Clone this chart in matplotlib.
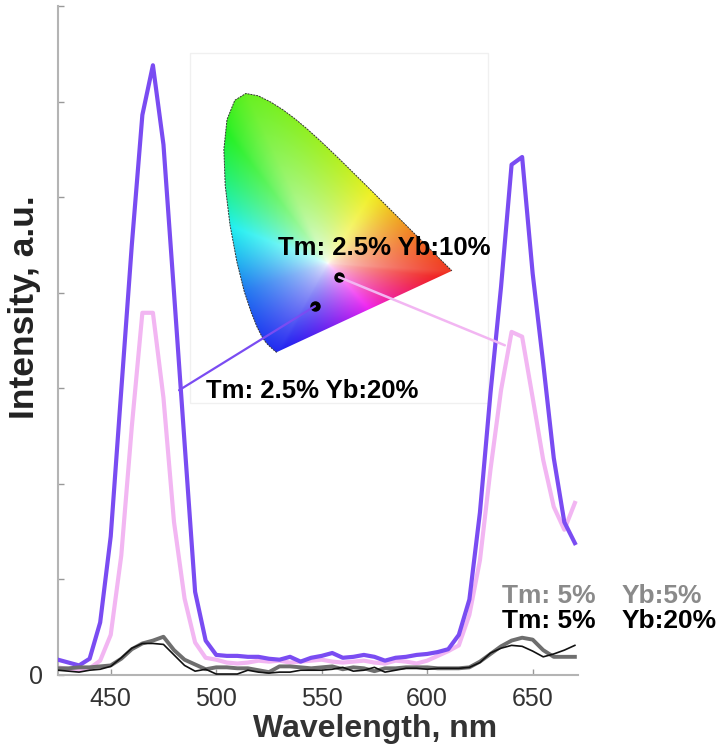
import matplotlib
matplotlib.use('Agg')
import matplotlib.pyplot as plt
import numpy as np
from matplotlib.colors import hsv_to_rgb
from matplotlib.patches import Polygon, Rectangle, ConnectionPatch

plt.rcParams['font.family'] = ['Liberation Sans', 'DejaVu Sans']

# emission spectra, 5 nm steps
wl = np.arange(425, 671, 5)
tm25_yb20 = [0.16, 0.13, 0.10, 0.17, 0.55, 1.45, 2.98, 4.50, 5.86, 6.38,
             5.55, 4.00, 2.43, 0.87, 0.36, 0.21, 0.20, 0.20, 0.19, 0.19,
             0.17, 0.16, 0.19, 0.14, 0.18, 0.20, 0.23, 0.18, 0.19, 0.21,
             0.19, 0.15, 0.18, 0.19, 0.21, 0.22, 0.24, 0.27, 0.42, 0.79,
             1.70, 2.95, 4.06, 5.34, 5.42, 4.20, 3.26, 2.27, 1.60, 1.38]
tm25_yb10 = [0.08, 0.06, 0.05, 0.07, 0.15, 0.42, 1.25, 2.60, 3.79, 3.79,
             2.90, 1.60, 0.80, 0.34, 0.18, 0.16, 0.13, 0.12, 0.13, 0.15,
             0.14, 0.15, 0.13, 0.14, 0.15, 0.16, 0.14, 0.13, 0.14, 0.15,
             0.13, 0.12, 0.15, 0.14, 0.12, 0.15, 0.20, 0.25, 0.31, 0.63,
             1.20, 2.15, 2.98, 3.59, 3.54, 2.90, 2.25, 1.76, 1.52, 1.80]
tm5_yb5 = [0.07, 0.07, 0.08, 0.08, 0.09, 0.10, 0.17, 0.27, 0.33, 0.36,
           0.40, 0.26, 0.16, 0.11, 0.06, 0.08, 0.08, 0.07, 0.07, 0.05,
           0.03, 0.09, 0.09, 0.08, 0.07, 0.08, 0.09, 0.06, 0.08, 0.07,
           0.04, 0.07, 0.07, 0.08, 0.08, 0.08, 0.07, 0.07, 0.07, 0.08,
           0.14, 0.22, 0.30, 0.36, 0.39, 0.37, 0.26, 0.19, 0.19, 0.19]
tm5_yb20 = [0.05, 0.04, 0.03, 0.05, 0.06, 0.09, 0.18, 0.28, 0.33, 0.33,
            0.32, 0.21, 0.10, 0.04, 0.06, 0.01, 0.01, 0.01, 0.05, 0.03,
            0.02, 0.03, 0.03, 0.05, 0.05, 0.05, 0.06, 0.08, 0.04, 0.05,
            0.08, 0.03, 0.05, 0.07, 0.07, 0.06, 0.07, 0.07, 0.07, 0.08,
            0.13, 0.23, 0.28, 0.31, 0.30, 0.25, 0.19, 0.22, 0.26, 0.31]

# CIE 1931 spectral locus (x, y)
locus_x = [0.1741, 0.1733, 0.1726, 0.1714, 0.1689, 0.1644, 0.1566, 0.1440, 0.1355,
           0.1241, 0.1096, 0.0913, 0.0687, 0.0454, 0.0235, 0.0082, 0.0039, 0.0139,
           0.0389, 0.0743, 0.1142, 0.1547, 0.1929, 0.2296, 0.2658, 0.3016, 0.3373,
           0.3731, 0.4087, 0.4441, 0.4788, 0.5125, 0.5448, 0.5752, 0.6029, 0.6270,
           0.6658, 0.6915, 0.7079, 0.7190, 0.7260, 0.7300, 0.7334, 0.7347]
locus_y = [0.0050, 0.0048, 0.0048, 0.0051, 0.0069, 0.0109, 0.0177, 0.0297, 0.0399,
           0.0578, 0.0868, 0.1327, 0.2007, 0.2950, 0.4127, 0.5384, 0.6548, 0.7502,
           0.8120, 0.8338, 0.8262, 0.8059, 0.7816, 0.7543, 0.7243, 0.6923, 0.6589,
           0.6245, 0.5896, 0.5547, 0.5202, 0.4866, 0.4544, 0.4242, 0.3965, 0.3725,
           0.3340, 0.3083, 0.2920, 0.2809, 0.2740, 0.2700, 0.2666, 0.2653]
white_pt = (0.335, 0.29)
# chromaticity of the two samples
pt_yb10 = (0.373, 0.245)
pt_yb20 = (0.296, 0.152)

# hue (deg, unwrapped) seen at points of the diagram rim, going round from the blue corner
rim_x = [0.174, 0.33, 0.45, 0.60, 0.7347, 0.60, 0.50, 0.30, 0.074, 0.014, 0.008, 0.0235, 0.069, 0.124]
rim_y = [0.005, 0.085, 0.134, 0.20, 0.2653, 0.40, 0.49, 0.69, 0.834, 0.75, 0.538, 0.41, 0.20, 0.058]
rim_hue = [238, 262, 292, 340, 366, 390, 415, 445, 460, 475, 510, 540, 575, 592]

purple = '#7a4cf2'
pink = '#f2b6f2'

fig = plt.figure(figsize=(7.22, 7.53), dpi=100)
ax = fig.add_axes([0.0803, 0.1036, 0.7203, 0.8884])
ax.set_facecolor('none')

ax.plot(wl, tm25_yb10, color=pink, lw=3.0, zorder=2)
ax.plot(wl, tm25_yb20, color=purple, lw=3.0, zorder=3)
ax.plot(wl, tm5_yb5, color='#6e6e6e', lw=2.8, zorder=4)
ax.plot(wl, tm5_yb20, color='#111111', lw=1.2, zorder=5)

ax.set_xlim(425, 671.5)
ax.set_ylim(0, 7)
ax.set_xticks([450, 500, 550, 600, 650])
ax.set_yticks(range(8))
ax.set_yticklabels(['0', '', '', '', '', '', '', ''])
for s in ['top', 'right']:
    ax.spines[s].set_visible(False)
for s in ['left', 'bottom']:
    ax.spines[s].set_color('#b4b4b4')
    ax.spines[s].set_linewidth(1.5)
ax.tick_params(direction='in', length=4, width=1, color='#999999',
               labelsize=18, labelcolor='#333333')
ax.tick_params(axis='x', pad=9)
ax.tick_params(axis='y', pad=11)

ax.set_xlabel('Wavelength, nm', fontsize=23, fontweight='bold', color='#333333')
ax.set_ylabel('Intensity, a.u.', fontsize=25.5, fontweight='bold', color='#222222')
ax.xaxis.set_label_coords(0.61, -0.058)
ax.yaxis.set_label_coords(-0.032, 0.55)

# legend-like labels for the low-intensity samples
ax.text(635.4, 0.753, 'Tm: 5%', color='#8a8a8a', fontsize=19, fontweight='bold')
ax.text(692.3, 0.753, 'Yb:5%', color='#8a8a8a', fontsize=19, fontweight='bold')
ax.text(635.4, 0.49, 'Tm: 5%', color='black', fontsize=19, fontweight='bold')
ax.text(692.3, 0.49, 'Yb:20%', color='black', fontsize=19, fontweight='bold')

# white box behind the chromaticity diagram
fig.patches.append(Rectangle((190 / 722, 1 - 403 / 753), 298 / 722, 350 / 753,
                             transform=fig.transFigure, fc='white', ec='#f0f0f0',
                             lw=1, zorder=-1))

# CIE chromaticity inset
axc = fig.add_axes([0.3084, 0.5304, 0.3457, 0.3729], zorder=3)
axc.set_facecolor('none')
axc.set_xlim(0, 0.8)
axc.set_ylim(0, 0.9)
axc.axis('off')

# radial blend: white in the middle, rim hue at the boundary
rx = np.array(rim_x) - white_pt[0]
ry = np.array(rim_y) - white_pt[1]
a = np.arctan2(ry, rx)
a0 = a[0]
a = (a - a0) % (2 * np.pi) + a0
a_ext = np.append(a, a0 + 2 * np.pi)
h_ext = np.append(rim_hue, rim_hue[0] + 360)

bx = np.concatenate([np.linspace(p, q, 25, endpoint=False)
                     for p, q in zip(locus_x, locus_x[1:] + locus_x[:1])])
by = np.concatenate([np.linspace(p, q, 25, endpoint=False)
                     for p, q in zip(locus_y, locus_y[1:] + locus_y[:1])])
b_ang = np.arctan2(by - white_pt[1], bx - white_pt[0])
b_rad = np.hypot(bx - white_pt[0], by - white_pt[1])
order = np.argsort(b_ang)
b_ang, b_rad = b_ang[order], b_rad[order]

gx, gy = np.meshgrid(np.linspace(0, 0.8, 400), np.linspace(0, 0.9, 450))
p_ang = np.arctan2(gy - white_pt[1], gx - white_pt[0])
p_rad = np.hypot(gx - white_pt[0], gy - white_pt[1])
R = np.interp(p_ang, b_ang, b_rad, period=2 * np.pi)
t = np.clip(p_rad / R, 0, 1) ** 0.6
hue = (np.interp((p_ang - a0) % (2 * np.pi) + a0, a_ext, h_ext) % 360) / 360
rim_rgb = hsv_to_rgb(np.stack([hue, np.full_like(hue, 0.86), np.full_like(hue, 0.94)], axis=-1))
rgb = np.clip(1 + (rim_rgb - 1) * t[..., None], 0, 1)

poly = Polygon(np.column_stack([locus_x, locus_y]), closed=True, fc='none', ec='none')
axc.add_patch(poly)
im = axc.imshow(rgb, origin='lower', extent=[0, 0.8, 0, 0.9], aspect='auto',
                interpolation='bilinear')
im.set_clip_path(poly)
axc.plot(locus_x, locus_y, color='#333333', lw=0.7, ls=(0, (2, 1)))

axc.plot(*pt_yb10, 'o', color='black', ms=6.5)
axc.plot(*pt_yb20, 'o', color='black', ms=6.5)

axc.text(529.5, 4.39, 'Tm: 2.5% Yb:10%', fontsize=18.5, fontweight='bold',
         color='black', transform=ax.transData, zorder=6)
axc.text(495.1, 2.90, 'Tm: 2.5% Yb:20%', fontsize=18.5, fontweight='bold',
         color='black', transform=ax.transData, zorder=6)

con1 = ConnectionPatch(xyA=pt_yb10, coordsA=axc.transData, xyB=(636.8, 3.45),
                       coordsB=ax.transData, color=pink, lw=1.8, zorder=4)
con2 = ConnectionPatch(xyA=pt_yb20, coordsA=axc.transData, xyB=(482.4, 2.98),
                       coordsB=ax.transData, color=purple, lw=1.6, zorder=4)
fig.add_artist(con1)
fig.add_artist(con2)

fig.savefig('out.png', dpi=100)
